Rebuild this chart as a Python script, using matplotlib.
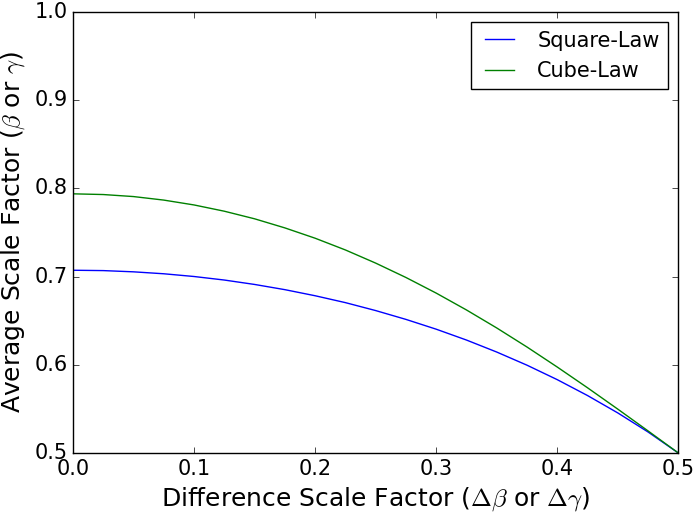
import numpy as np
import matplotlib
matplotlib.use('Agg')
import matplotlib.pyplot as plt

plt.style.use('classic')

# difference scale factor values read along the x axis
delta = [0.0, 0.025, 0.05, 0.075, 0.1, 0.125, 0.15, 0.175, 0.2, 0.225, 0.25,
         0.275, 0.3, 0.325, 0.35, 0.375, 0.4, 0.425, 0.45, 0.475, 0.5]

# average scale factor, square-law curve
square_law = [0.7071, 0.7067, 0.7053, 0.7031, 0.7000, 0.6960, 0.6910, 0.6851,
              0.6782, 0.6704, 0.6614, 0.6514, 0.6403, 0.6280, 0.6144, 0.5995,
              0.5831, 0.5651, 0.5454, 0.5238, 0.5000]

# average scale factor, cube-law curve
cube_law = [0.7937, 0.7929, 0.7906, 0.7866, 0.7811, 0.7740, 0.7654, 0.7551,
            0.7434, 0.7301, 0.7152, 0.6989, 0.6812, 0.6621, 0.6417, 0.6201,
            0.5974, 0.5739, 0.5497, 0.5250, 0.5000]

fig = plt.figure(figsize=(6.95, 5.13), dpi=100)
ax = fig.add_axes([0.105, 0.117, 0.871, 0.860])
ax.plot(delta, square_law, color='b', label='Square-Law')
ax.plot(delta, cube_law, color='g', label='Cube-Law')
ax.set_xlim(0, 0.5)
ax.set_ylim(0.5, 1.0)
ax.set_xticks(np.arange(0, 0.51, 0.1))
ax.set_yticks(np.arange(0.5, 1.01, 0.1))
ax.tick_params(labelsize=15)
ax.set_xlabel(r'Difference Scale Factor ($\Delta\beta$ or $\Delta\gamma$)', fontsize=18)
ax.set_ylabel(r'Average Scale Factor ($\beta$ or $\gamma$)', fontsize=18)
ax.legend(loc='upper right', fontsize=15)

fig.savefig('out.png', dpi=100)
